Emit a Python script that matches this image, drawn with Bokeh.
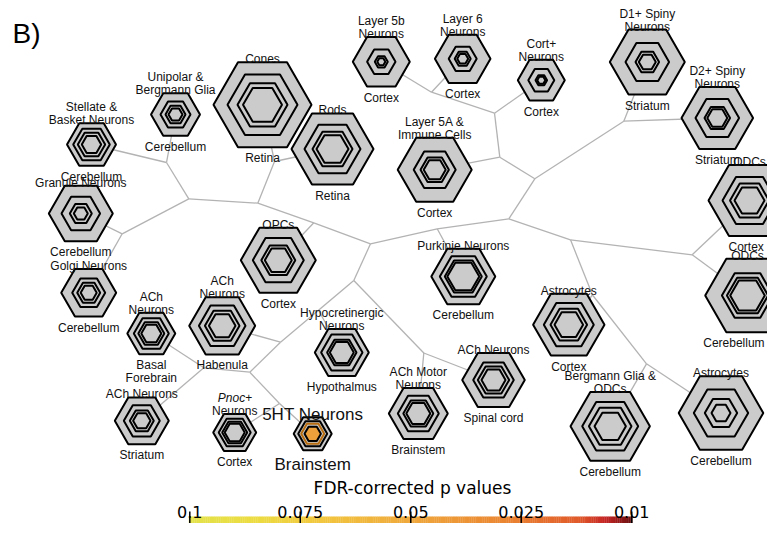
import numpy as np
from bokeh.plotting import figure
from bokeh.models import Range1d, ColumnDataSource
from bokeh.core.properties import value, field
from bokeh.embed import file_html
from bokeh.resources import INLINE

# ---------------- data ----------------
node_ids = ["stellate", "unipolar", "granule", "golgi", "cones", "rods", "opcs", "purkinje",
            "hypocretin", "ach_basal", "ach_habenula", "ach_striatum", "pnoc", "ht5",
            "l5b", "l6", "cort", "l5a", "d1", "d2", "odc_ctx", "odc_cb", "astro_ctx",
            "ach_spinal", "ach_motor", "bg_odc", "astro_cb"]
cell_types = ["Stellate &\nBasket Neurons", "Unipolar &\nBergmann Glia", "Granule Neurons",
              "Golgi Neurons", "Cones", "Rods", "OPCs", "Purkinje Neurons",
              "Hypocretinergic\nNeurons", "ACh\nNeurons", "ACh\nNeurons", "ACh Neurons",
              "Pnoc+\nNeurons", "5HT Neurons", "Layer 5b\nNeurons", "Layer 6\nNeurons",
              "Cort+\nNeurons", "Layer 5A &\nImmune Cells", "D1+ Spiny\nNeurons",
              "D2+ Spiny\nNeurons", "ODCs", "ODCs", "Astrocytes", "ACh Neurons",
              "ACh Motor\nNeurons", "Bergmann Glia &\nODCs", "Astrocytes"]
regions = ["Cerebellum", "Cerebellum", "Cerebellum", "Cerebellum", "Retina", "Retina", "Cortex",
           "Cerebellum", "Hypothalmus", "Basal\nForebrain", "Habenula", "Striatum", "Cortex",
           "Brainstem", "Cortex", "Cortex", "Cortex", "Cortex", "Striatum", "Striatum", "Cortex",
           "Cerebellum", "Cortex", "Spinal cord", "Brainstem", "Cerebellum", "Cerebellum"]
node_x = [91, 175, 80.3, 88.2, 262, 332, 277.8, 462.8, 341.3, 150.8, 221.7, 141.3, 234.2, 312.2,
          380.8, 462.2, 540.8, 434.2, 646.8, 716.8, 749, 747, 568.3, 493, 417.8, 609.7, 720.5]
node_y = [144, 114, 213, 292.3, 104.3, 148.5, 259.7, 276, 352, 333, 325.3, 420.3, 432, 433.3,
          61.3, 58.3, 79.7, 169.2, 61.5, 117.5, 200, 295, 324.2, 379.5, 413, 425.8, 412.5]
ring1 = [24.5, 24.5, 32, 27.5, 49, 41, 37.5, 32, 27, 24, 33, 27, 21.5, 19,
         28.5, 27.8, 23.5, 37, 37.5, 35.8, 41, 42.3, 35.7, 31.3, 29.5, 39.7, 42.3]
ring2 = [18.3, 15, 19.3, 16.5, 35, 28, 25.5, 23.5, 20.7, 17.5, 23.3, 18, 16, 14.5,
         14.2, 14, 13, 21, 21.8, 21.8, 27, 25.6, 25, 20.3, 20.5, 28, 27.2]
ring3 = [13.7, 10, 11, 11.5, 25, 20, 17, 18.5, 14.7, 13, 17.3, 12, 12.5, 11.5,
         6.5, 8, 5.8, 14.2, 11.8, 12.8, 19.5, 20.6, 18.3, 15.7, 15, 21.3, 16.2]
ring4 = [9.7, 7, 7, 8, 19.5, 16, 13.5, 16, 12, 10, 13.3, 8.7, 10, 8.2,
         4, 5.5, 4, 11, 8.5, 10, 15, 17.3, 14.3, 12, 12, 15.7, 9.5]
fdr_p = [None] * len(node_ids)
fdr_p[node_ids.index("ht5")] = 0.045

junction_ids = ["j1", "j2", "j3", "j4", "j5", "j6", "c", "j7", "j9", "j10", "j12", "j13", "j14",
                "j16", "j11", "j17", "j18", "j19", "j8", "j20", "j21", "j22", "j23", "j24", "j25"]
junction_x = [166, 188.3, 121.7, 274, 257.3, 313.3, 370, 436.7, 508.3, 534.3, 499.3, 494, 431,
              623.3, 570, 691.7, 592, 646, 353.3, 423.3, 318, 280, 249.3, 203.3, 279]
junction_y = [162, 198.3, 233.3, 161, 202.7, 222.3, 243.3, 228.3, 218.3, 178.3, 156.7, 112.7, 91.7,
              120.7, 239.3, 254.3, 294.5, 363.3, 280, 352.5, 309.7, 341.7, 371.7, 367.3, 403]
edges = [("stellate", "j1"), ("unipolar", "j1"), ("j1", "j2"), ("granule", "j3"), ("golgi", "j3"),
         ("j3", "j2"), ("j2", "j5"), ("cones", "j4"), ("rods", "j4"), ("j4", "j5"), ("j5", "j6"),
         ("opcs", "j6"), ("j6", "c"), ("purkinje", "j7"), ("j7", "c"), ("j7", "j9"),
         ("j9", "j10"), ("j9", "j11"), ("j10", "j12"), ("j10", "j16"), ("l5a", "j12"),
         ("j12", "j13"), ("cort", "j13"), ("j13", "j14"), ("l5b", "j14"), ("l6", "j14"),
         ("d1", "j16"), ("d2", "j16"), ("j11", "j17"), ("j11", "j18"), ("odc_ctx", "j17"),
         ("odc_cb", "j17"), ("astro_ctx", "j18"), ("j18", "j19"), ("bg_odc", "j19"),
         ("astro_cb", "j19"), ("c", "j8"), ("j8", "j20"), ("ach_motor", "j20"),
         ("ach_spinal", "j20"), ("j8", "j21"), ("hypocretin", "j21"), ("j21", "j22"),
         ("ach_habenula", "j22"), ("j22", "j23"), ("j23", "j24"), ("ach_basal", "j24"),
         ("ach_striatum", "j24"), ("j23", "j25"), ("pnoc", "j25"), ("ht5", "j25")]

cbar_values = [0.1, 0.075, 0.05, 0.025, 0.01]
cbar_labels = ["0.1", "0.075", "0.05", "0.025", "0.01"]
cbar_title = "FDR-corrected p values"
panel_label = "B)"

# ---------------- styling ----------------
GREY = "#cbcbcb"
EDGE = "#b3b3b3"
FONT = "Liberation Sans"
CB_FONT = "DejaVu Sans"
stop_pos = [0.0, 0.15, 0.3, 0.5, 0.72, 0.88, 0.94, 1.0]
stop_col = ["#e3e24a", "#ecdc42", "#f2c63e", "#efa83c", "#ea8431", "#e05a2a", "#c42424", "#6a1010"]


def hex2rgb(h):
    return np.array([int(h[i:i + 2], 16) for i in (1, 3, 5)], dtype=float)


stop_rgb = np.array([hex2rgb(c) for c in stop_col])


def cmap(frac):
    rgb = [np.interp(frac, stop_pos, stop_rgb[:, k]) for k in range(3)]
    return "#%02x%02x%02x" % tuple(int(round(v)) for v in rgb)


tick_frac = np.linspace(0, 1, len(cbar_values))


def p_to_frac(pv):
    return float(np.interp(-pv, [-v for v in cbar_values], tick_frac))


W, H = 767, 523
RIGHT_LIMIT = W - 3
p = figure(width=W, height=H, x_range=Range1d(0, W), y_range=Range1d(H, 0),
           output_backend="svg", toolbar_location=None, min_border=0,
           x_axis_location=None, y_axis_location=None)
p.grid.visible = False
p.outline_line_color = None

# edges
pos = {k: (x, y) for k, x, y in zip(node_ids, node_x, node_y)}
pos.update({k: (x, y) for k, x, y in zip(junction_ids, junction_x, junction_y)})
p.segment(x0=[pos[a][0] for a, b in edges], y0=[pos[a][1] for a, b in edges],
          x1=[pos[b][0] for a, b in edges], y1=[pos[b][1] for a, b in edges],
          line_color=EDGE, line_width=1.3)

# hexagon rings
rings = [ring1, ring2, ring3, ring4]
for k, rr in enumerate(rings):
    fills, lines = [], []
    for pv in fdr_p:
        if pv is None:
            fills.append(GREY)
            lines.append("black")
        else:
            c = cmap(p_to_frac(pv))
            fills.append(c if k == 3 else GREY)
            lines.append("#b86e10" if k == 2 else "black")
    src = ColumnDataSource(dict(x=node_x, y=node_y, s=[2 * r for r in rr], f=fills, l=lines))
    p.scatter("x", "y", size="s", marker="hex", source=src, fill_color="f",
              line_color="l", line_width=2)


def fit_x(x, txt, fs):
    w = 0.51 * fs * len(txt)
    return min(x, RIGHT_LIMIT - w / 2)


# labels
tx, ty, tt, tfs, ta = [], [], [], [], []
ix, iy, it = [], [], []
for i in range(len(node_ids)):
    fs = 17 if fdr_p[i] is not None else 12
    gap = round(fs * 1.07)
    h = np.sqrt(3) / 2 * ring1[i]
    top_lines = cell_types[i].split("\n")
    for k, line in enumerate(reversed(top_lines)):
        y = node_y[i] - h - 3 - k * gap
        if line.startswith("Pnoc"):
            ix.append(node_x[i] + 10.5); iy.append(y); it.append("Pnoc")
            tx.append(node_x[i] + 10.5); ty.append(y); tt.append(line[4:]); tfs.append("%dpx" % fs); ta.append("left")
        else:
            tx.append(fit_x(node_x[i], line, fs)); ty.append(y); tt.append(line); tfs.append("%dpx" % fs); ta.append("center")
    for k, line in enumerate(regions[i].split("\n")):
        y = node_y[i] + h + 2.5 + 0.716 * fs + k * gap
        tx.append(fit_x(node_x[i], line, fs)); ty.append(y); tt.append(line); tfs.append("%dpx" % fs); ta.append("center")

p.text(x="x", y="y", text="t", source=ColumnDataSource(dict(x=tx, y=ty, t=tt, fs=tfs, a=ta)),
       text_font=value(FONT), text_font_size=field("fs"), text_align=field("a"),
       text_baseline="alphabetic", text_color="#111111")
p.text(x=ix, y=iy, text=it, text_font=value(FONT), text_font_size=value("12px"),
       text_font_style="italic", text_align="right", text_baseline="alphabetic", text_color="#111111")

p.text(x=[12], y=[33], text=[panel_label], text_font=value(FONT), text_font_size=value("28px"),
       text_align="left", text_baseline="alphabetic", text_color="black")

# colour bar (raised slightly so that it fits inside the figure)
CB_SHIFT = -9
bx0, bx1 = 188.3, 631.7
n = 240
edges_x = np.linspace(bx0, bx1, n + 1)
fr = (np.arange(n) + 0.5) / n
p.quad(left=edges_x[:-1], right=edges_x[1:] + 0.3, top=525 + CB_SHIFT, bottom=545,
       fill_color=[cmap(f) for f in fr], line_color=None)
tick_x = bx0 + 1 + tick_frac * (bx1 - bx0 - 1.5)
p.segment(x0=tick_x, y0=[520 + CB_SHIFT] * len(tick_x), x1=tick_x,
          y1=[532 + CB_SHIFT] * len(tick_x), line_color="black", line_width=1.5)
p.text(x=tick_x, y=[520 + CB_SHIFT] * len(tick_x), text=cbar_labels, text_font=value(CB_FONT),
       text_font_size=value("16px"), text_align="center", text_baseline="alphabetic",
       text_color="black")
p.text(x=[412], y=[496.7 + CB_SHIFT], text=[cbar_title], text_font=value(CB_FONT),
       text_font_size=value("17px"), text_align="center", text_baseline="alphabetic",
       text_color="black")

open("out.html", "w").write(file_html(p, INLINE))
